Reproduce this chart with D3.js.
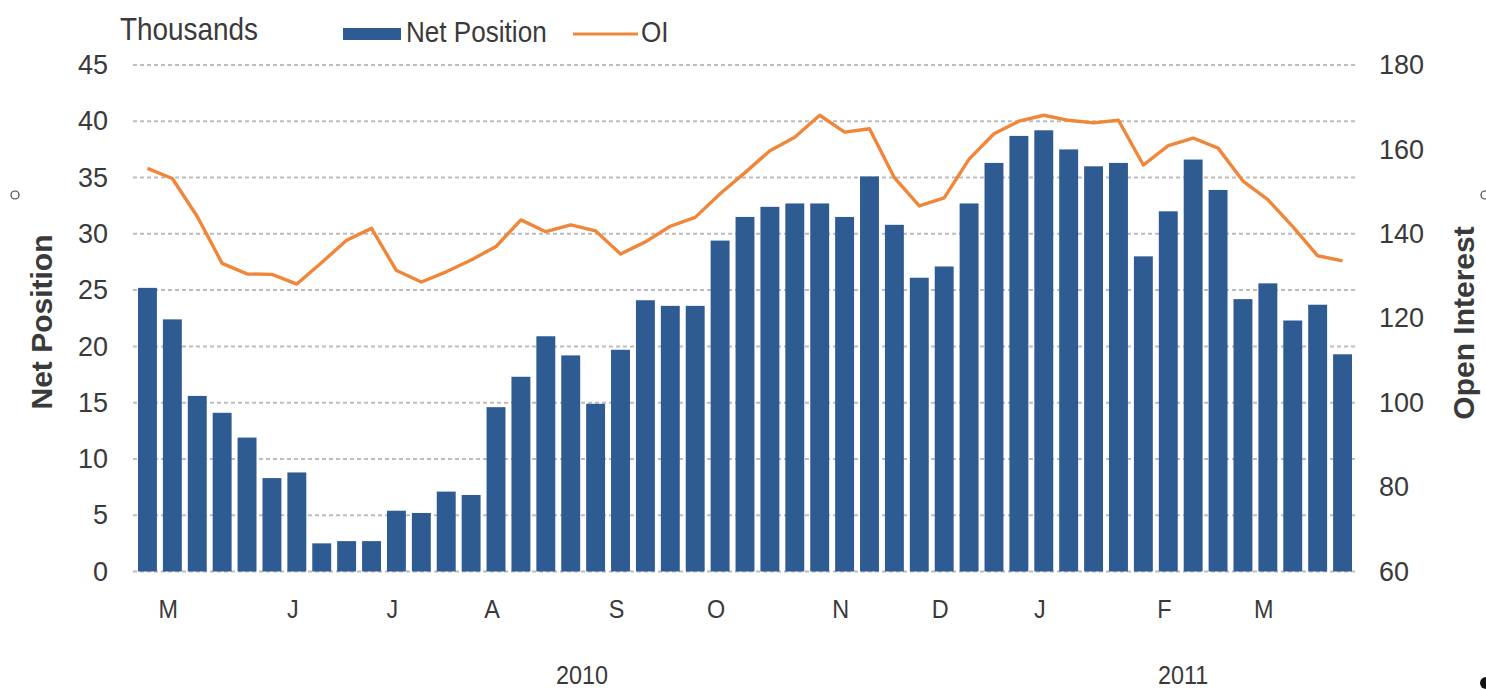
<!DOCTYPE html>
<html>
<head>
<meta charset="utf-8">
<script src="https://cdn.jsdelivr.net/npm/d3@7"></script>
<style>
  html, body { margin: 0; padding: 0; background: #ffffff; }
  svg { display: block; }
  text { font-family: "Liberation Sans", Arial, sans-serif; fill: #3a3a3a; }
</style>
</head>
<body>
<svg id="chart" width="1486" height="690"></svg>
<script>
// Weekly net position (thousands of contracts) and open interest, Apr 2010 - Mar 2011
const netPosition = [25.2, 22.4, 15.6, 14.1, 11.9, 8.3, 8.8, 2.5, 2.7, 2.7,
                     5.4, 5.2, 7.1, 6.8, 14.6, 17.3, 20.9, 19.2, 14.9, 19.7,
                     24.1, 23.6, 23.6, 29.4, 31.5, 32.4, 32.7, 32.7, 31.5, 35.1,
                     30.8, 26.1, 27.1, 32.7, 36.3, 38.7, 39.2, 37.5, 36.0, 36.3,
                     28.0, 32.0, 36.6, 33.9, 24.2, 25.6, 22.3, 23.7, 19.3];
const openInterest = [155.5, 153.1, 144.1, 133.0, 130.5, 130.4, 128.1, 133.2, 138.5, 141.3,
                      131.3, 128.6, 131.0, 133.8, 137.0, 143.3, 140.5, 142.1, 140.7, 135.2,
                      138.1, 141.8, 143.9, 149.5, 154.5, 159.7, 162.9, 168.1, 164.1, 164.9,
                      153.3, 146.6, 148.5, 157.7, 163.7, 166.7, 168.1, 166.9, 166.3, 166.9,
                      156.3, 160.9, 162.7, 160.3, 152.5, 148.1, 141.7, 134.8, 133.6];
// Month initials and the week (bar index) each month starts on
const monthLabels = ["M", "J", "J", "A", "S", "O", "N", "D", "J", "F", "M"];
const monthStartWeek = [1, 6, 10, 14, 19, 23, 28, 32, 36, 41, 45];
// Year labels and the (fractional) week they are centred under
const yearLabels = ["2010", "2011"];
const yearCenterWeek = [17.45, 41.6];
const leftTicks = [0, 5, 10, 15, 20, 25, 30, 35, 40, 45];
const rightTicks = [60, 80, 100, 120, 140, 160, 180];

const BAR_COLOR = "#2f5b93";
const LINE_COLOR = "#f0863a";
const TEXT_SX = 0.9;   // condensed look for word labels

const svg = d3.select("#chart");
const plot = { left: 135, right: 1355, top: 65, bottom: 571.5 };

const weeks = d3.range(netPosition.length);
const x = d3.scaleBand().domain(weeks).range([plot.left, plot.right])
  .paddingInner(0.24).paddingOuter(0.12);
const yL = d3.scaleLinear().domain([0, 45]).range([plot.bottom, plot.top]);
const yR = d3.scaleLinear().domain([60, 180]).range([plot.bottom, plot.top]);
const cx = i => x(i) + x.bandwidth() / 2;
const step = x.step();
const xPos = f => plot.left + x.paddingOuter() * step + x.bandwidth() / 2 + f * step;

// condensed text helper: places text at (tx, ty) and squeezes it horizontally
function squeeze(sel, tx, ty, sx, rot) {
  sel.attr("x", 0).attr("y", 0)
     .attr("transform", `translate(${tx},${ty})` + (rot ? ` rotate(${rot})` : "") + ` scale(${sx},1)`);
  return sel;
}

// dashed horizontal gridlines on the left-axis ticks
svg.append("g").selectAll("line").data(leftTicks).join("line")
  .attr("x1", plot.left - 2).attr("x2", plot.right + 2)
  .attr("y1", d => yL(d)).attr("y2", d => yL(d))
  .attr("stroke", "#bdbdbd").attr("stroke-width", 2)
  .attr("stroke-dasharray", "4,3");

// bars
svg.append("g").selectAll("rect").data(netPosition).join("rect")
  .attr("x", (d, i) => x(i)).attr("width", x.bandwidth())
  .attr("y", d => yL(d)).attr("height", d => yL(0) - yL(d))
  .attr("fill", BAR_COLOR);

// open interest line
svg.append("path").datum(openInterest)
  .attr("fill", "none").attr("stroke", LINE_COLOR).attr("stroke-width", 3.4)
  .attr("stroke-linejoin", "round")
  .attr("d", d3.line().x((d, i) => cx(i)).y(d => yR(d)));

// left axis
const axL = svg.append("g").attr("transform", `translate(${plot.left - 27},0)`)
  .call(d3.axisLeft(yL).tickValues(leftTicks).tickSize(0).tickPadding(0));
axL.select(".domain").remove();
axL.selectAll("text").style("font-size", "27px").style("fill", "#3a3a3a")
  .style("font-family", "'Liberation Sans', Arial, sans-serif");

// right axis
const axR = svg.append("g").attr("transform", `translate(${plot.right + 24},0)`)
  .call(d3.axisRight(yR).tickValues(rightTicks).tickSize(0).tickPadding(0));
axR.select(".domain").remove();
axR.selectAll("text").style("font-size", "27px").style("fill", "#3a3a3a")
  .style("font-family", "'Liberation Sans', Arial, sans-serif");

// month labels
svg.append("g").selectAll("text").data(monthLabels).join("text")
  .each(function (d, i) {
    squeeze(d3.select(this), cx(monthStartWeek[i]) - 4, 618, TEXT_SX);
  })
  .attr("text-anchor", "middle").style("font-size", "26px").text(d => d);

// year labels
svg.append("g").selectAll("text").data(yearLabels).join("text")
  .each(function (d, i) {
    squeeze(d3.select(this), xPos(yearCenterWeek[i]), 684, TEXT_SX);
  })
  .attr("text-anchor", "middle").style("font-size", "26px").text(d => d);

// axis titles
squeeze(svg.append("text"), 52, 322, 1, -90)
  .attr("text-anchor", "middle").style("font-size", "30px").style("font-weight", "bold")
  .text("Net Position");
squeeze(svg.append("text"), 1474, 323, 1, -90)
  .attr("text-anchor", "middle").style("font-size", "30px").style("font-weight", "bold")
  .text("Open Interest");

// units note
squeeze(svg.append("text"), 120, 40, TEXT_SX)
  .style("font-size", "31px").text("Thousands");

// legend
const lg = svg.append("g");
lg.append("rect").attr("x", 343).attr("y", 28).attr("width", 58).attr("height", 12).attr("fill", BAR_COLOR);
squeeze(lg.append("text"), 406, 42, 0.9).style("font-size", "29px").text("Net Position");
lg.append("line").attr("x1", 573).attr("x2", 638).attr("y1", 34).attr("y2", 34)
  .attr("stroke", LINE_COLOR).attr("stroke-width", 3.2);
squeeze(lg.append("text"), 641, 42, 0.9).style("font-size", "29px").text("OI");

// selection handles around the chart object
svg.append("circle").attr("cx", 15).attr("cy", 195).attr("r", 4)
  .attr("fill", "#fff").attr("stroke", "#444").attr("stroke-width", 1.2);
svg.append("circle").attr("cx", 1485).attr("cy", 195).attr("r", 4)
  .attr("fill", "#fff").attr("stroke", "#444").attr("stroke-width", 1.2);
svg.append("circle").attr("cx", 1486).attr("cy", 683).attr("r", 6).attr("fill", "#111");
</script>
</body>
</html>
